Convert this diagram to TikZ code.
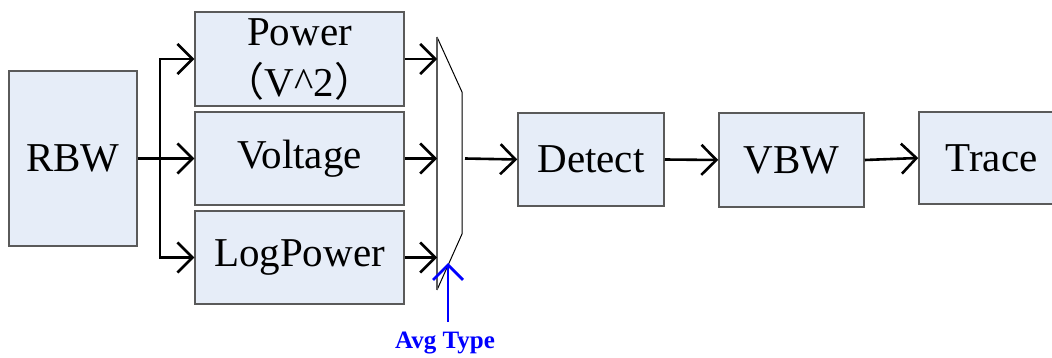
\documentclass[tikz,border=0pt]{standalone}
\usepackage{fontspec}
\setmainfont{Liberation Serif}
\newfontfamily\cjk{Noto Sans CJK SC}
\usetikzlibrary{arrows.meta}
\definecolor{boxfill}{RGB}{230,237,248}
\definecolor{boxline}{RGB}{90,90,90}
\tikzset{
  blk/.style={draw=boxline, line width=1.5pt, fill=boxfill, inner sep=0pt,
    font=\fontsize{41}{52}\selectfont, align=center},
  arr/.style={line width=2.6pt, -{Straight Barb[length=15pt,width=30pt,line width=2.6pt]}},
  bluearr/.style={draw=blue, line width=2.8pt, -{Straight Barb[length=15pt,width=30pt,line width=2.8pt]}},
  wire/.style={line width=2.6pt},
}
\newcommand{\cjkparen}[1]{{\cjk\fontsize{40}{52}\selectfont #1}}
\begin{document}
\begin{tikzpicture}[x=1pt,y=-1pt]
\useasboundingbox (0,0) rectangle (1052,358);
\node[blk, minimum width=128pt, minimum height=175pt] (rbw) at (73,158.5) {RBW};
\node[blk, minimum width=209pt, minimum height=94pt] (power) at (299.5,59) {Power\\[-1pt]\cjkparen{（}V\textasciicircum 2\cjkparen{）}};
\node[blk, minimum width=209pt, minimum height=93pt] (voltage) at (299.5,158.5) {Voltage};
\node[blk, minimum width=209pt, minimum height=93pt] (logpower) at (299.5,257.5) {LogPower};
\node[blk, minimum width=146pt, minimum height=93pt] (detect) at (591,159.5) {Detect};
\node[blk, minimum width=145pt, minimum height=94pt] (vbw) at (791.5,160) {VBW};
\node[blk, minimum width=145pt, minimum height=92pt] (trace) at (991.5,158) {Trace};
% multiplexer
\coordinate (m1) at (437,37);
\coordinate (m2) at (462,92);
\coordinate (m3) at (462,234);
\coordinate (m4) at (437,290);
\coordinate (muxL) at (437,158.5);
\coordinate (muxR) at (465,158.5);
\fill[white] (m1) -- (m2) -- (m3) -- (m4) -- cycle;
\draw[line width=1pt] (m1) -- (m2) -- (m3) -- (m4);
\draw[line width=2pt, boxline] (m4) -- (m1);
% branches
\coordinate (br) at (160,158.5);
\draw[wire] (rbw.east) -- (br);
\draw[arr] (br) |- (power.west);
\draw[arr] (br) -- (voltage.west);
\draw[arr] (br) |- (logpower.west);
\draw[arr] (power.east) -- (power.east -| muxL);
\draw[arr] (voltage.east) -- (voltage.east -| muxL);
\draw[arr] (logpower.east) -- (logpower.east -| muxL);
\draw[arr] (muxR) -- (detect.west);
\draw[arr] (detect.east) -- (vbw.west);
\draw[arr] (vbw.east) -- (trace.west);
% avg type
\node[text=blue, font=\bfseries\fontsize{25}{28}\selectfont, inner sep=0pt] (avg) at (445,343) {Avg Type};
\coordinate (avgbase) at (448,322);
\coordinate (avgtip) at (448,263);
\draw[bluearr] (avgbase) -- (avgtip);
\end{tikzpicture}
\end{document}
